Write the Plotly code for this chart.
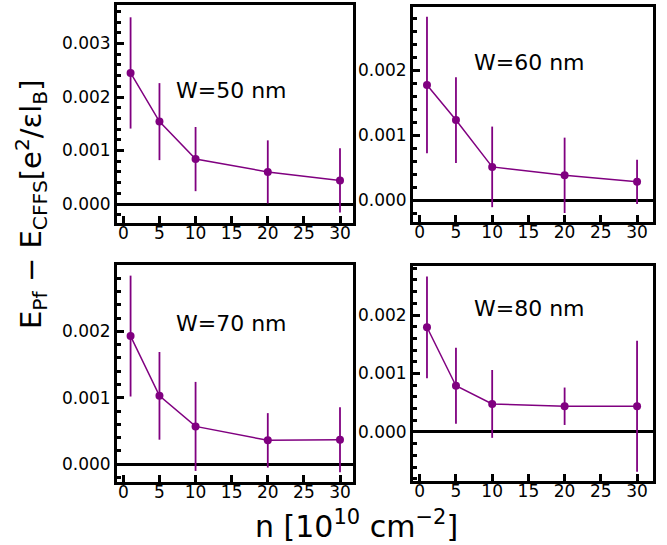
import plotly.graph_objects as go

# Carrier density (10^10 cm^-2)
n_values = [1, 5, 10, 20, 30]

# Energy difference E_Pf - E_CFFS and its uncertainty for each well width
widths = ["W=50 nm", "W=60 nm", "W=70 nm", "W=80 nm"]
dE_w50 = [0.00245, 0.00154, 0.00084, 0.00060, 0.00044]
err_w50 = [0.00104, 0.00072, 0.00060, 0.00059, 0.00060]
dE_w60 = [0.00177, 0.00123, 0.00051, 0.00038, 0.00028]
err_w60 = [0.00105, 0.00066, 0.00062, 0.00058, 0.00034]
dE_w70 = [0.00193, 0.00103, 0.00057, 0.00036, 0.00037]
err_w70 = [0.00091, 0.00066, 0.00067, 0.00041, 0.00049]
dE_w80 = [0.00179, 0.00079, 0.00048, 0.00044, 0.00044]
err_w80 = [0.00087, 0.00065, 0.00058, 0.00032, 0.00112]

x_ticks = [0, 5, 10, 15, 20, 25, 30]
y_ticks_w50 = [0.0, 0.001, 0.002, 0.003]
y_ticks_other = [0.0, 0.001, 0.002]

W, H = 667, 545
FONT = "DejaVu Sans"
PURPLE = "#800080"


def px_x(p):
    return p / W


def px_y(p):
    return 1 - p / H


# panel frames in pixels: (left, right, top, bottom), axis ranges, label centre
panels = [
    dict(box=(117, 353, 5, 223), xr=[-0.88, 31.8], yr=[-0.000355, 0.00372],
         yt=y_ticks_w50, lab=(231, 90)),
    dict(box=(413, 653, 7, 222), xr=[-0.93, 32.2], yr=[-0.000338, 0.00297],
         yt=y_ticks_other, lab=(529, 62)),
    dict(box=(117, 353, 265, 482), xr=[-0.88, 31.8], yr=[-0.000267, 0.0030],
         yt=y_ticks_other, lab=(231, 323)),
    dict(box=(413, 653, 266, 481), xr=[-0.93, 32.2], yr=[-0.000838, 0.002838],
         yt=y_ticks_other, lab=(529, 308)),
]
series = [(dE_w50, err_w50), (dE_w60, err_w60), (dE_w70, err_w70), (dE_w80, err_w80)]

fig = go.Figure()
annotations = []

for i, (p, (vals, errs), label) in enumerate(zip(panels, series, widths)):
    k = "" if i == 0 else str(i + 1)
    fig.add_trace(go.Scatter(
        x=n_values, y=vals,
        mode="lines+markers",
        line=dict(color=PURPLE, width=1.5),
        marker=dict(color=PURPLE, size=8),
        error_y=dict(type="data", array=errs, visible=True,
                     color=PURPLE, thickness=1.8, width=0),
        xaxis="x" + k, yaxis="y" + k, showlegend=False,
    ))
    l, r, t, b = p["box"]
    axis_common = dict(
        showline=True, linecolor="black", linewidth=3, mirror=True,
        ticks="inside", tickcolor="black", tickwidth=2.5, ticklen=7,
        showgrid=False, automargin=False,
        tickfont=dict(family=FONT, size=17, color="black"),
    )
    fig.layout["xaxis" + k] = dict(
        axis_common,
        domain=[px_x(l), px_x(r)], range=p["xr"], anchor="y" + k,
        tickvals=x_ticks, zeroline=False, ticklabelstandoff=-7,
    )
    fig.layout["yaxis" + k] = dict(
        axis_common,
        domain=[px_y(b), px_y(t)], range=p["yr"], anchor="x" + k,
        tickvals=p["yt"], tickformat=".3f",
        zeroline=True, zerolinecolor="black", zerolinewidth=2.5,
        minor=dict(ticks="inside", ticklen=4, tickwidth=2.5,
                   tickcolor="black", dtick=0.0002, tick0=0),
    )
    annotations.append(dict(
        text=label, x=px_x(p["lab"][0]), y=px_y(p["lab"][1]),
        xref="paper", yref="paper", showarrow=False,
        xanchor="center", yanchor="middle",
        font=dict(family=FONT, size=22, color="black"),
    ))

annotations.append(dict(
    text="E<sub>Pf</sub> − E<sub>CFFS</sub>[e<sup>2</sup>/εl<sub>B</sub>]",
    x=px_x(31), y=px_y(204), xref="paper", yref="paper",
    showarrow=False, textangle=-90, xanchor="center", yanchor="middle",
    font=dict(family=FONT, size=29, color="black"),
))
annotations.append(dict(
    text="n [10<sup>10</sup> cm<sup>−2</sup>]",
    x=px_x(356), y=px_y(524), xref="paper", yref="paper",
    showarrow=False, xanchor="center", yanchor="middle",
    font=dict(family=FONT, size=30, color="black"),
))

fig.update_layout(
    width=W, height=H,
    margin=dict(l=0, r=0, t=0, b=0, autoexpand=False),
    paper_bgcolor="white", plot_bgcolor="white",
    annotations=annotations,
)

fig.write_html("out.html")
